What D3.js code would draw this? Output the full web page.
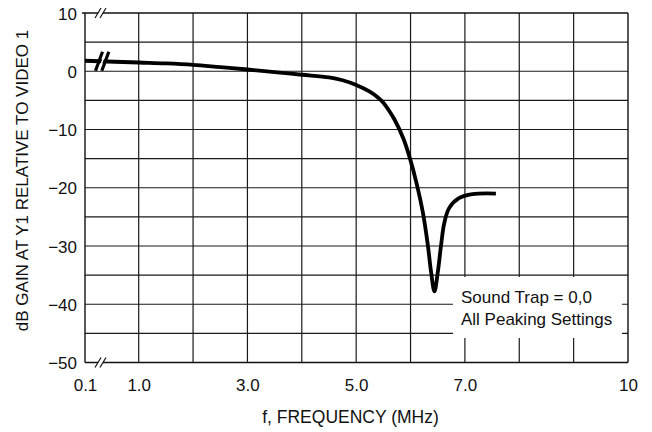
<!DOCTYPE html>
<html>
<head>
<meta charset="utf-8">
<script src="https://cdn.jsdelivr.net/npm/d3@7"></script>
<style>
  html, body { margin: 0; padding: 0; background: #fff; }
  svg { display: block; }
  text { font-family: "Liberation Sans", Arial, Helvetica, sans-serif; fill: #111; }
</style>
</head>
<body>
<svg id="chart" width="652" height="432"></svg>
<script>
// --- Data ---
const freqMHz = [0.1, 1.0, 1.5, 2.0, 2.5, 3.0, 3.5, 4.0, 4.5, 4.75, 5.0, 5.25, 5.4, 5.5, 5.6, 5.7, 5.87,
                 6.0, 6.11, 6.23, 6.32, 6.38, 6.44, 6.5, 6.56, 6.62, 6.71, 6.89, 7.14, 7.57];
const gainDb = [1.8, 1.5, 1.35, 1.1, 0.7, 0.3, -0.15, -0.6, -1.05, -1.55, -2.35, -3.5, -4.5, -5.4, -6.7, -8.2, -11.6,
                -15.3, -19.2, -24.4, -30, -34.6, -37.8, -34.6, -30, -26.1, -23.5, -21.8, -21.1, -21.0];

const xTickValues = [0.1, 1, 3, 5, 7, 10];
const xTickLabels = ['0.1', '1.0', '3.0', '5.0', '7.0', '10'];
const xGridValues = [1, 2, 3, 4, 5, 6, 7, 8, 9];
const yTickValues = [10, 0, -10, -20, -30, -40, -50];
const yGridValues = [5, 0, -5, -10, -15, -20, -25, -30, -35, -40, -45];
const legendLines = ['Sound Trap = 0,0', 'All Peaking Settings'];

const svg = d3.select('#chart');
const plot = { left: 85, right: 628, top: 13, bottom: 362.5 };

// 0.1 sits behind an axis break, so the scale is piecewise
const x = d3.scaleLinear().domain([0.1, 1, 10]).range([plot.left, 138.7, plot.right]);
const y = d3.scaleLinear().domain([-50, 10]).range([plot.bottom, plot.top]);

// --- Grid ---
const grid = svg.append('g').attr('stroke', '#1a1a1a').attr('stroke-width', 1.2);
grid.selectAll('.vg').data(xGridValues).enter().append('line')
    .attr('x1', d => x(d)).attr('x2', d => x(d))
    .attr('y1', plot.top).attr('y2', plot.bottom);
grid.selectAll('.hg').data(yGridValues).enter().append('line')
    .attr('x1', plot.left).attr('x2', plot.right)
    .attr('y1', d => y(d)).attr('y2', d => y(d));

// frame
const frame = svg.append('g').attr('stroke', '#111').attr('stroke-width', 1.4).attr('fill', 'none');
frame.append('line').attr('x1', plot.left - 3).attr('x2', plot.right).attr('y1', y(10)).attr('y2', y(10));
frame.append('line').attr('x1', plot.left).attr('x2', plot.right).attr('y1', y(-50)).attr('y2', y(-50));
frame.append('line').attr('x1', plot.left).attr('x2', plot.left).attr('y1', y(10)).attr('y2', y(-50));
frame.append('line').attr('x1', plot.right).attr('x2', plot.right).attr('y1', y(10)).attr('y2', y(-50));

// thin break marks on top and bottom edges
function edgeBreak(cy) {
    const cx = 101;
    svg.append('rect').attr('x', cx - 3).attr('y', cy - 2).attr('width', 5).attr('height', 4).attr('fill', '#fff');
    [-3, 2].forEach(dx => {
        svg.append('line')
            .attr('x1', cx + dx - 3).attr('y1', cy + 5)
            .attr('x2', cx + dx + 3).attr('y2', cy - 5)
            .attr('stroke', '#111').attr('stroke-width', 1.2);
    });
}
edgeBreak(y(10));
edgeBreak(y(-50));

// --- Legend box (white patch over the grid) ---
svg.append('rect')
    .attr('x', 453).attr('y', 277).attr('width', 169).attr('height', 61)
    .attr('fill', '#fff');
svg.selectAll('.legend').data(legendLines).enter().append('text')
    .attr('x', 461).attr('y', (d, i) => 302.5 + i * 22)
    .style('font-size', '17px')
    .text(d => d);

// --- Curve ---
const line = d3.line()
    .x(d => x(d[0]))
    .y(d => y(d[1]))
    .curve(d3.curveCatmullRom.alpha(0.5));
const pts = freqMHz.map((f, i) => [f, gainDb[i]]);
svg.append('path')
    .datum(pts)
    .attr('d', line)
    .attr('fill', 'none')
    .attr('stroke', '#000')
    .attr('stroke-width', 3.8)
    .attr('stroke-linejoin', 'round')
    .attr('stroke-linecap', 'butt');

// thick break mark on the curve
(function curveBreak() {
    const cy = y(1.8) + 0.5;
    const g = svg.append('g');
    g.append('line')
        .attr('x1', 95.5).attr('y1', cy + 9.5).attr('x2', 102.5).attr('y2', cy - 9.5)
        .attr('stroke', '#000').attr('stroke-width', 3.2);
    g.append('line')
        .attr('x1', 98.8).attr('y1', cy + 9.5).attr('x2', 105.8).attr('y2', cy - 9.5)
        .attr('stroke', '#fff').attr('stroke-width', 1.6);
    g.append('line')
        .attr('x1', 101.8).attr('y1', cy + 9.5).attr('x2', 108.8).attr('y2', cy - 9.5)
        .attr('stroke', '#000').attr('stroke-width', 3.2);
})();

// --- Axes (labels only) ---
const xAxis = d3.axisBottom(x)
    .tickValues(xTickValues)
    .tickFormat((d, i) => xTickLabels[i])
    .tickSize(0).tickPadding(0);
const gx = svg.append('g').attr('transform', `translate(0,${plot.bottom})`).call(xAxis);
gx.select('.domain').remove();
gx.selectAll('text')
    .attr('y', 28.5).attr('dy', null)
    .style('font-size', '17px')
    .style('font-family', '"Liberation Sans", Arial, sans-serif')
    .attr('fill', '#111');

const yAxis = d3.axisLeft(y)
    .tickValues(yTickValues)
    .tickFormat(d => d < 0 ? '\u2212' + Math.abs(d) : String(d))
    .tickSize(0).tickPadding(0);
const gy = svg.append('g').attr('transform', 'translate(77,0)').call(yAxis);
gy.select('.domain').remove();
gy.selectAll('text')
    .attr('x', 0).attr('dy', '0.36em')
    .style('font-size', '17px')
    .style('font-family', '"Liberation Sans", Arial, sans-serif')
    .attr('fill', '#111');

// --- Axis titles ---
svg.append('text')
    .attr('x', 350.5).attr('y', 423)
    .attr('text-anchor', 'middle')
    .style('font-size', '17.5px')
    .text('f, FREQUENCY (MHz)');

svg.append('text')
    .attr('transform', 'translate(28,180.5) rotate(-90)')
    .attr('text-anchor', 'middle')
    .style('font-size', '17px')
    .text('dB GAIN AT Y1 RELATIVE TO VIDEO 1');
</script>
</body>
</html>
